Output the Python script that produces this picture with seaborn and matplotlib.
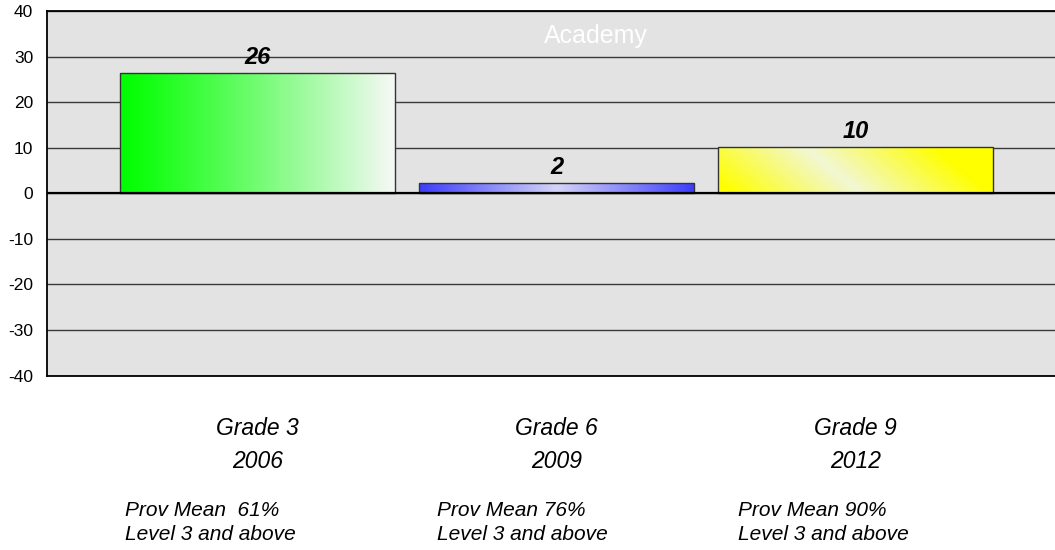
import numpy as np
import pandas as pd
import seaborn as sns
import matplotlib.pyplot as plt
from matplotlib.colors import to_rgb
from matplotlib.ticker import FuncFormatter
from matplotlib.transforms import blended_transform_factory

# Daten
grades = ["Grade 3\n2006", "Grade 6\n2009", "Grade 9\n2012"]
scores = [26.4, 2.2, 10.2]
prov_notes = ["Prov Mean  61%\nLevel 3 and above",
              "Prov Mean 76%\nLevel 3 and above",
              "Prov Mean 90%\nLevel 3 and above"]
yticks = [-40, -30, -20, -10, 0, 10, 20, 30, 40]

sns.set_theme(style="white")
plt.rcParams["font.family"] = ["Liberation Sans", "DejaVu Sans"]

df = pd.DataFrame({"grade": grades, "score": scores})

fig = plt.figure(figsize=(10.55, 5.5), dpi=100)
ax = fig.add_axes([0.0446, 0.317, 0.9554, 0.663])
ax.set_facecolor("#e3e3e3")

sns.barplot(data=df, x="grade", y="score", width=0.92, color="#cccccc",
            edgecolor="#333333", linewidth=1, ax=ax, zorder=3)


def grad_green(xx, yy):
    a = np.array(to_rgb("#00ff00"))
    b = np.array(to_rgb("#f8f8f8"))
    t = xx[..., None] ** 1.1
    return a + (b - a) * t


def grad_blue(xx, yy):
    a = np.array(to_rgb("#3c3cff"))
    b = np.array(to_rgb("#d4d4f8"))
    t = (1 - np.abs(2 * xx - 1))[..., None]
    return a + (b - a) * t


def grad_yellow(xx, yy):
    a = np.array(to_rgb("#ffff00"))
    b = np.array(to_rgb("#f2f7d4"))
    s = (xx * 275 + yy * 56) / 284
    t = np.clip(1 - np.abs(2 * s - 1) * 1.1, 0, 1)[..., None]
    return a + (b - a) * t


fills = [grad_green, grad_blue, grad_yellow]
xx, yy = np.meshgrid(np.linspace(0, 1, 300), np.linspace(0, 1, 60))
for patch, fill in zip(ax.patches, fills):
    x0, y0 = patch.get_x(), patch.get_y()
    w, h = patch.get_width(), patch.get_height()
    img = fill(xx, yy)
    im = ax.imshow(img, extent=[x0, x0 + w, y0, y0 + h], origin="lower",
                   aspect="auto", zorder=3.5, interpolation="bilinear")
    im.set_clip_path(patch)
    patch.set_facecolor("none")
    patch.set_zorder(4)

for cont in ax.containers:
    ax.bar_label(cont, fmt="%.0f", padding=3, fontsize=17,
                 fontweight="bold", fontstyle="italic", color="black")

ax.set_xlim(-0.704, 2.667)
ax.set_ylim(-40, 40)
ax.set_yticks(yticks)
ax.yaxis.set_major_formatter(FuncFormatter(lambda v, p: "%d" % v))
ax.set_xlabel("")
ax.set_ylabel("")

ax.grid(axis="y", color="#3a3a3a", linewidth=1, zorder=1)
ax.set_axisbelow(True)
ax.axhline(0, color="black", linewidth=1.6, zorder=5)

for side in ["left", "top", "bottom"]:
    ax.spines[side].set_color("black")
    ax.spines[side].set_linewidth(1.3)
ax.spines["right"].set_visible(False)

ax.tick_params(axis="y", length=0, pad=10, labelsize=12.5, labelcolor="black")
ax.tick_params(axis="x", length=0, pad=30, labelsize=16.5, labelcolor="black")
for lab in ax.get_xticklabels():
    lab.set_fontstyle("italic")
    lab.set_multialignment("center")
    lab.set_linespacing(1.55)

trans = blended_transform_factory(ax.transData, ax.transAxes)
note_x = [-0.443, 0.600, 1.607]
for nx, note in zip(note_x, prov_notes):
    ax.text(nx, -0.343, note, transform=trans, ha="left", va="top",
            fontsize=15, fontstyle="italic", color="black", linespacing=1.36)

ax.text(0.5446, 0.912, "Academy", transform=ax.transAxes, ha="center",
        va="baseline", fontsize=18, color="white", zorder=6)

fig.savefig("out.png", dpi=100)
